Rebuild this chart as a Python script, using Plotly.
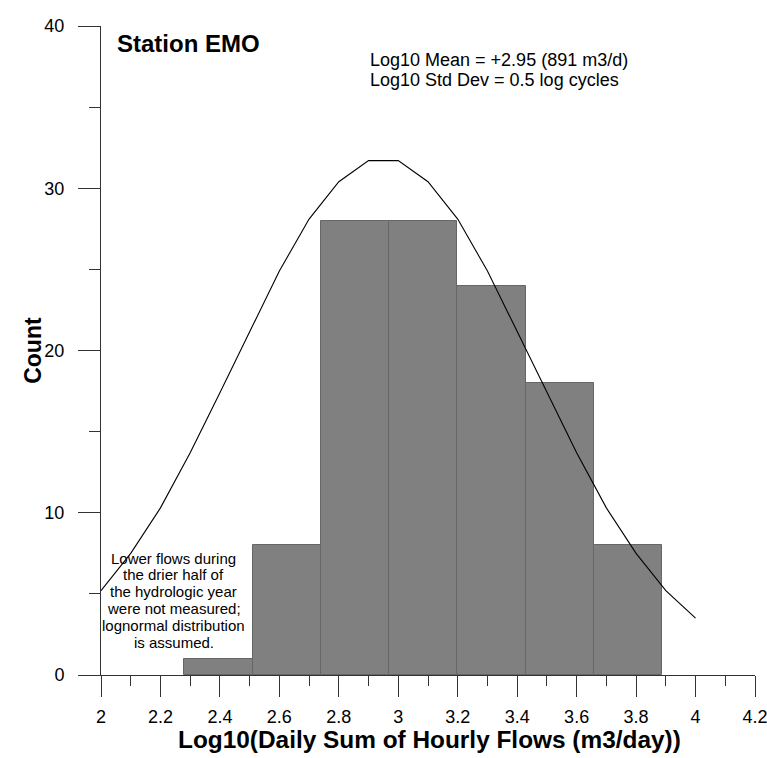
import plotly.graph_objects as go

# Histogram of log10 daily flows at Station EMO
bin_edges = [2.280, 2.511, 2.741, 2.970, 3.198, 3.428, 3.657, 3.888]
counts = [1, 8, 28, 28, 24, 18, 8]

# Fitted lognormal curve (log10 space), sampled every 0.1
curve_x = [2.0, 2.1, 2.2, 2.3, 2.4, 2.5, 2.6, 2.7, 2.8, 2.9, 3.0,
           3.1, 3.2, 3.3, 3.4, 3.5, 3.6, 3.7, 3.8, 3.9, 4.0]
curve_y = [5.2, 7.5, 10.3, 13.7, 17.4, 21.2, 24.9, 28.1, 30.4, 31.7, 31.7,
           30.4, 28.1, 24.9, 21.2, 17.4, 13.7, 10.3, 7.5, 5.2, 3.5]

x_ticks = [2.0, 2.2, 2.4, 2.6, 2.8, 3.0, 3.2, 3.4, 3.6, 3.8, 4.0, 4.2]
x_tick_labels = ["2", "2.2", "2.4", "2.6", "2.8", "3", "3.2", "3.4", "3.6", "3.8", "4", "4.2"]
y_ticks = [0, 10, 20, 30, 40]

stats_lines = ["Log10 Mean = +2.95 (891 m3/d)", "Log10 Std Dev = 0.5 log cycles"]
note_lines = ["Lower flows during", "the drier half of", "the hydrologic year",
              "were not measured;", "lognormal distribution", "is assumed."]

FONT = "Liberation Sans, Arial, sans-serif"

centers = [(a + b) / 2 for a, b in zip(bin_edges[:-1], bin_edges[1:])]
widths = [b - a for a, b in zip(bin_edges[:-1], bin_edges[1:])]

fig = go.Figure()
fig.add_trace(go.Bar(
    x=centers, y=counts, width=widths,
    marker=dict(color="#808080", line=dict(color="#666666", width=1)),
    showlegend=False, hoverinfo="skip",
))
fig.add_trace(go.Scatter(
    x=curve_x, y=curve_y, mode="lines",
    line=dict(color="#000000", width=1.1),
    showlegend=False, hoverinfo="skip",
))

annotations = [
    dict(text="<b>Station EMO</b>", x=2.047, y=38.9, xref="x", yref="y",
         xanchor="left", yanchor="middle", showarrow=False,
         font=dict(family=FONT, size=24, color="#000")),
    dict(text="<b>Log10(Daily Sum of Hourly Flows (m3/day))</b>", x=0.503, y=-0.100,
         xref="paper", yref="paper", xanchor="center", yanchor="middle", showarrow=False,
         font=dict(family=FONT, size=24.4, color="#000")),
    dict(text="<b>Count</b>", x=-0.105, y=0.5, xref="paper", yref="paper",
         xanchor="center", yanchor="middle", textangle=-90, showarrow=False,
         font=dict(family=FONT, size=23, color="#000")),
]
for i, line in enumerate(stats_lines):
    annotations.append(dict(text=line, x=2.897, y=37.9 - 1.23 * i, xref="x", yref="y",
                            xanchor="left", yanchor="middle", showarrow=False,
                            font=dict(family=FONT, size=18, color="#000")))
for i, line in enumerate(note_lines):
    annotations.append(dict(text=line, x=2.245, y=7.21 - 1.04 * i, xref="x", yref="y",
                            xanchor="center", yanchor="middle", showarrow=False,
                            font=dict(family=FONT, size=15, color="#000")))

fig.update_layout(
    width=767, height=758,
    margin=dict(l=101, r=12, t=26, b=83),
    paper_bgcolor="white", plot_bgcolor="white",
    bargap=0,
    font=dict(family=FONT, size=18, color="#000"),
    annotations=annotations,
    xaxis=dict(
        range=[2.0 - 1e-6, 4.2 + 1e-6], tickvals=x_ticks, ticktext=x_tick_labels,
        ticks="outside", ticklen=21, tickwidth=1, tickcolor="#333",
        showline=True, linecolor="#333", linewidth=1,
        showgrid=False, zeroline=False,
        minor=dict(dtick=0.1, tick0=2.0, ticks="outside", ticklen=10,
                   tickwidth=1, tickcolor="#333", showgrid=False),
        tickfont=dict(family=FONT, size=18, color="#000"),
        ticklabelstandoff=4,
        ticklabeloverflow="allow",
        automargin=False,
    ),
    yaxis=dict(
        range=[0, 40], tickvals=y_ticks,
        ticks="outside", ticklen=22, tickwidth=1, tickcolor="#333",
        showline=True, linecolor="#333", linewidth=1,
        showgrid=False, zeroline=False,
        minor=dict(dtick=5, tick0=0, ticks="outside", ticklen=11,
                   tickwidth=1, tickcolor="#333", showgrid=False),
        tickfont=dict(family=FONT, size=18, color="#000"),
        ticklabelstandoff=10,
        automargin=False,
    ),
)

fig.write_html("out.html")
